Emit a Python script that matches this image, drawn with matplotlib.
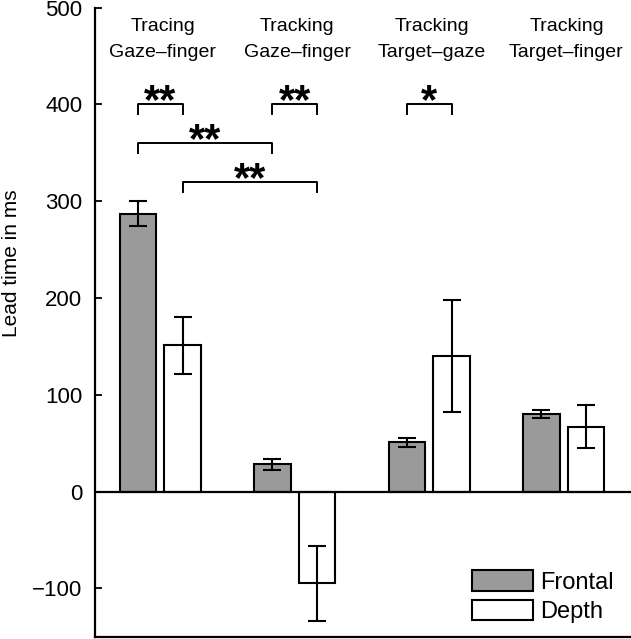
import numpy as np
import matplotlib
matplotlib.use('Agg')
import matplotlib.pyplot as plt

# data
groups = ['Tracing\nGaze\u2013finger', 'Tracking\nGaze\u2013finger',
          'Tracking\nTarget\u2013gaze', 'Tracking\nTarget\u2013finger']
frontal = [287, 28, 51, 80]
frontal_err = [13, 6, 4.5, 4]
depth = [151, -95, 140, 67]
depth_err = [29.5, 38.5, 58, 22]

# significance brackets: (group_a, series_a, group_b, series_b, y, label)
sig = [
    (0, 0, 0, 1, 400, '**'),
    (1, 0, 1, 1, 400, '**'),
    (0, 0, 1, 0, 360, '**'),
    (0, 1, 1, 1, 320, '**'),
    (2, 0, 2, 1, 400, '*'),
]

plt.rcParams['font.family'] = ['Liberation Sans', 'DejaVu Sans']

x = np.arange(1, len(groups) + 1)
w = 0.27
off = 0.166

fig = plt.figure(figsize=(6.31, 6.39), dpi=100)
ax = fig.add_axes([95 / 631, 1 - 636.7 / 639, 536 / 631, 629 / 639])

ekw = dict(elinewidth=1.5, capthick=1.5, ecolor='black')
ax.bar(x - off, frontal, w, yerr=frontal_err, color='#9a9a9a', edgecolor='black',
       linewidth=1.5, capsize=6.8, error_kw=ekw, label='Frontal', zorder=2)
ax.bar(x + off, depth, w, yerr=depth_err, color='white', edgecolor='black',
       linewidth=1.5, capsize=6.8, error_kw=ekw, label='Depth', zorder=2)
ax.axhline(0, color='black', lw=1.6, zorder=3)

ax.set_xlim(0.515, 4.5)
ax.set_ylim(-150, 500)
ax.set_xticks([])
ax.set_yticks(np.arange(-100, 501, 100))
ax.set_yticklabels(['\u2212100', '0', '100', '200', '300', '400', '500'])
ax.tick_params(axis='y', direction='in', length=5, width=1.3, labelsize=16, pad=9)
for s in ['top', 'right']:
    ax.spines[s].set_visible(False)
for s in ['left', 'bottom']:
    ax.spines[s].set_linewidth(1.6)

ax.set_ylabel('Lead time in ms', fontsize=15)
ax.yaxis.set_label_coords(-0.138, 0.594)

# group labels
for xi, g in zip(x, groups):
    ax.text(xi + 0.02, 467, g, ha='center', va='center', fontsize=14, linespacing=1.65)

# brackets
for ga, sa, gb, sb, y, lab in sig:
    xa = x[ga] + (off if sa else -off)
    xb = x[gb] + (off if sb else -off)
    ax.plot([xa, xa, xb, xb], [y - 10, y, y, y - 10], color='black', lw=1.4, clip_on=False)
    ax.text((xa + xb) / 2, y - 9, lab, ha='center', va='baseline',
            fontsize=30, fontweight='bold')

ax.legend(loc='lower left', bbox_to_anchor=(0.703, 0.022), frameon=False,
          fontsize=17, handlelength=2.6, handleheight=0.95, handletextpad=0.3,
          labelspacing=0.25, borderpad=0, borderaxespad=0)

fig.savefig('out.png', dpi=100)
